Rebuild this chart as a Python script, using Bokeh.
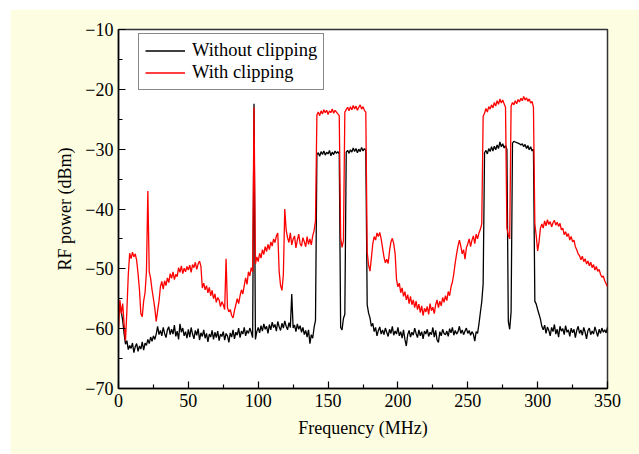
from bokeh.plotting import figure
from bokeh.models import Range1d, FixedTicker, Legend, LegendItem
from bokeh.embed import file_html
from bokeh.resources import INLINE

freq_mhz = list(range(0, 351))

without_clipping = [
    -57.5, -55.8, -57.2, -58.6, -60.8, -62.6, -62.0, -63.5, -62.8, -63.3,
    -62.4, -64.0, -63.0, -62.5, -63.8, -62.9, -63.4, -62.2, -63.6, -62.4,
    -62.8, -61.8, -62.5, -61.4, -62.1, -61.2, -61.8, -60.9, -59.6, -61.0,
    -60.3, -61.2, -59.8, -60.8, -61.5, -60.2, -59.7, -61.0, -60.1, -60.9,
    -59.4, -61.3, -60.4, -61.8, -59.2, -60.6, -59.9, -61.2, -60.5, -61.6,
    -60.1, -61.4, -59.8, -60.9, -61.7, -60.3, -61.1, -60.0, -61.9, -60.7,
    -61.3, -60.2, -61.6, -60.8, -62.2, -60.9, -61.4, -60.3, -61.8, -60.6,
    -61.5, -60.4, -62.0, -60.9, -61.3, -60.5, -61.9, -60.8, -61.2, -62.3,
    -60.7, -61.4, -60.2, -61.7, -60.6, -61.1, -59.9, -61.5, -60.4, -60.9,
    -59.8, -61.2, -60.3, -60.8, -59.9, -60.6, -61.5, -22.4, -61.8, -60.5,
    -59.8, -60.7, -59.5, -60.4, -59.2, -60.1, -59.6, -60.8, -59.3, -60.2,
    -58.9, -59.8, -59.3, -60.4, -58.8, -59.7, -60.3, -59.1, -59.9, -58.7,
    -59.6, -60.2, -59.0, -59.8, -54.2, -59.9, -59.4, -60.5, -59.2, -60.1,
    -59.5, -60.6, -59.8, -61.0, -60.3, -61.4, -60.2, -62.5, -61.0, -61.6,
    -59.8, -58.6, -30.9, -30.6, -31.2, -30.4, -30.9, -30.3, -31.0, -30.5,
    -30.8, -30.2, -31.1, -30.5, -30.9, -30.3, -30.7, -30.4, -30.8, -59.8,
    -60.2, -58.3, -57.6, -30.5, -30.2, -30.7, -30.1, -30.5, -29.8, -30.4,
    -29.9, -30.6, -30.0, -30.4, -29.7, -30.3, -29.9, -30.2, -56.0, -57.4,
    -58.2, -59.6, -59.1, -60.5, -59.8, -61.2, -60.3, -59.7, -60.9, -60.2,
    -61.0, -59.9, -60.6, -61.3, -60.1, -60.8, -59.6, -61.1, -60.4, -60.9,
    -59.8, -61.2, -60.5, -61.6, -60.2, -61.8, -62.9, -61.0, -60.3, -61.4,
    -60.6, -61.1, -59.9, -60.8, -61.5, -60.2, -61.2, -60.5, -61.7, -60.4,
    -60.9, -60.1, -61.3, -60.6, -61.0, -59.8, -61.4, -60.3, -61.9, -62.3,
    -60.5, -61.2, -60.1, -60.8, -61.0, -60.4, -61.3, -60.0, -60.7, -59.8,
    -61.1, -60.3, -60.9, -60.5, -59.6, -60.8, -60.2, -61.0, -60.4, -59.9,
    -60.8, -60.3, -61.1, -60.5, -60.9, -62.1, -60.5, -60.8, -59.2, -57.3,
    -55.5, -52.5, -30.6, -30.2, -30.8, -29.9, -30.4, -29.6, -30.3, -29.5,
    -30.1, -29.3, -29.9, -28.8, -29.6, -29.1, -29.8, -29.4, -30.0, -58.8,
    -60.1, -57.2, -29.0, -28.7, -28.8, -28.9, -29.0, -29.1, -29.3, -29.1,
    -29.6, -29.2, -29.9, -29.4, -30.1, -29.6, -30.3, -30.0, -55.4, -55.9,
    -56.8, -57.6, -58.4, -59.6, -60.2, -59.4, -60.8, -59.7, -60.3, -61.2,
    -59.8, -60.5, -59.3, -60.9, -60.1, -61.4, -59.6, -60.4, -60.0, -61.0,
    -59.5, -60.6, -60.2, -61.3, -59.9, -60.7, -60.1, -61.5, -60.3, -59.6,
    -60.8, -60.2, -61.1, -59.8, -60.6, -61.7, -60.3, -59.9, -61.0, -60.4,
    -60.9, -59.7, -60.5, -61.3, -60.1, -60.8, -59.9, -60.6, -60.2, -60.7,
    -59.8,
]

with_clipping = [
    -60.0, -55.2, -57.5, -55.8, -59.2, -62.0, -57.0, -51.0, -47.4, -48.3,
    -47.2, -48.0, -47.5, -48.6, -50.8, -53.5, -57.5, -58.0, -55.4, -54.0,
    -50.5, -37.0, -50.5, -51.6, -53.5, -55.0, -56.6, -58.8, -57.0, -55.4,
    -53.0, -52.1, -53.4, -52.0, -52.8, -51.5, -52.3, -50.8, -51.6, -50.5,
    -51.8, -50.9, -51.3, -49.8, -50.6, -49.5, -50.8, -49.9, -50.5, -49.6,
    -50.2, -49.4, -50.6, -49.3, -49.8, -48.9, -50.1, -49.2, -48.7, -49.6,
    -53.2, -52.4, -53.5, -52.8, -54.0, -53.1, -54.5, -53.6, -55.0, -54.2,
    -55.6, -54.8, -55.2, -56.3, -55.5, -56.0, -56.8, -48.3, -56.5, -57.2,
    -56.8, -57.8, -58.2, -57.0, -56.0, -55.0, -55.8, -54.5, -53.5, -54.2,
    -52.8, -51.5, -52.6, -50.5, -51.2, -49.8, -50.5, -23.0, -49.2, -48.0,
    -48.8, -47.4, -48.2, -46.8, -47.6, -46.3, -47.1, -45.9, -46.8, -45.5,
    -46.2, -45.0, -45.6, -44.5, -44.0, -50.5, -52.8, -53.6, -51.0, -40.0,
    -43.5, -44.8, -45.6, -44.0, -46.0, -45.0, -44.5, -46.5, -45.2, -44.2,
    -45.8, -46.2, -44.8, -45.5, -46.3, -44.6, -45.9, -45.0, -46.0, -44.5,
    -43.6, -42.0, -24.3, -23.8, -24.4, -23.6, -24.1, -23.4, -23.9, -23.5,
    -24.2, -23.6, -23.9, -23.3, -24.0, -23.5, -23.8, -24.1, -24.4, -44.8,
    -46.4, -45.3, -23.8, -23.4, -23.0, -23.6, -22.9, -23.4, -22.7, -23.3,
    -22.8, -23.5, -23.0, -22.6, -23.3, -22.9, -23.5, -23.8, -47.2, -49.4,
    -50.4, -48.2, -45.8, -44.6, -45.2, -44.0, -44.6, -43.9, -45.0, -46.5,
    -48.0, -49.0, -48.4, -49.1, -47.0, -45.5, -44.9, -45.8, -47.5, -51.8,
    -53.0, -52.4, -54.0, -53.2, -54.6, -53.8, -55.2, -54.3, -55.8, -54.6,
    -56.0, -55.2, -56.5, -55.4, -56.8, -55.9, -57.3, -56.2, -57.8, -56.6,
    -57.2, -56.3, -57.6, -55.8, -57.0, -56.4, -57.5, -56.0, -55.2, -56.5,
    -55.4, -56.2, -54.8, -55.6, -54.5, -55.3, -53.8, -54.5, -53.0, -52.2,
    -50.8, -49.0, -47.5, -46.2, -45.2, -46.2, -47.5, -46.8, -48.4, -46.5,
    -45.8, -45.0, -46.3, -45.2, -44.5, -45.8, -44.2, -45.0, -44.0, -43.4,
    -42.5, -24.5, -24.0, -23.2, -23.8, -22.9, -23.3, -22.6, -23.1, -22.2,
    -22.8, -21.9, -22.5, -21.6, -22.3, -21.8, -22.4, -23.0, -43.2, -44.3,
    -45.0, -22.8, -22.2, -22.6, -21.9, -22.4, -21.7, -22.1, -21.5, -21.9,
    -21.2, -21.8, -21.4, -22.0, -21.6, -22.3, -22.0, -23.0, -42.5, -44.5,
    -47.0, -45.5, -43.2, -42.5, -43.2, -42.0, -42.8, -41.8, -42.6, -42.1,
    -43.0, -42.3, -41.9, -42.7, -42.2, -42.9, -42.4, -43.5, -43.2, -44.3,
    -43.8, -44.6, -44.1, -45.2, -44.6, -45.5, -45.2, -46.3, -46.8, -47.5,
    -47.8, -48.5, -47.9, -48.8, -48.3, -49.2, -48.7, -49.5, -48.9, -49.8,
    -49.3, -50.2, -49.6, -50.4, -50.1, -50.9, -51.4, -51.2, -52.0, -52.5,
    -53.0,
]

x_ticks = [0, 50, 100, 150, 200, 250, 300, 350]
x_minor = [25, 75, 125, 175, 225, 275, 325]
y_ticks = [-70, -60, -50, -40, -30, -20, -10]
y_minor = [-65, -55, -45, -35, -25, -15]
y_tick_labels = {v: ("\u2212" + str(-v)) for v in y_ticks}
x_tick_labels = {v: str(v) for v in x_ticks}

series_names = ["Without clipping", "With clipping"]
series_colors = ["#000000", "#ff0000"]

FONT = "Liberation Serif"
BG = "#fdfde2"

p = figure(
    width=629, height=445,
    x_range=Range1d(0, 350), y_range=Range1d(-70, -10),
    output_backend="svg", toolbar_location=None,
    background_fill_color="white", border_fill_color=BG,
    min_border_left=108, min_border_top=20, min_border_right=32, min_border_bottom=66,
    margin=(9, 0, 0, 10),
)
p.grid.visible = False
p.outline_line_color = "#333333"
p.outline_line_width = 1.5

r_black = p.line(freq_mhz, without_clipping, line_color=series_colors[0], line_width=1.3)
r_red = p.line(freq_mhz, with_clipping, line_color=series_colors[1], line_width=1.3)

for ax in (p.xaxis[0], p.yaxis[0]):
    ax.axis_line_color = "#000000"
    ax.axis_line_width = 1.5
    ax.major_tick_in = 7
    ax.major_tick_out = 0
    ax.minor_tick_in = 4
    ax.minor_tick_out = 0
    ax.major_tick_line_color = "#000000"
    ax.minor_tick_line_color = "#000000"
    ax.major_tick_line_width = 1.2
    ax.minor_tick_line_width = 1.2
    ax.major_label_text_font = FONT
    ax.major_label_text_font_size = "18px"
    ax.major_label_text_color = "#000000"
    ax.axis_label_text_font = FONT
    ax.axis_label_text_font_size = "18px"
    ax.axis_label_text_font_style = "normal"
    ax.axis_label_text_color = "#000000"

p.xaxis.ticker = FixedTicker(ticks=x_ticks, minor_ticks=x_minor)
p.yaxis.ticker = FixedTicker(ticks=y_ticks, minor_ticks=y_minor)
p.xaxis.major_label_overrides = x_tick_labels
p.yaxis.major_label_overrides = y_tick_labels
p.xaxis.axis_label = "Frequency (MHz)"
p.yaxis.axis_label = "RF power (dBm)"
p.xaxis.major_label_standoff = 5
p.yaxis.major_label_standoff = 5
p.xaxis.axis_label_standoff = 8
p.yaxis.axis_label_standoff = 7

legend = Legend(
    items=[LegendItem(label=series_names[0], renderers=[r_black]),
           LegendItem(label=series_names[1], renderers=[r_red])],
    location=(20, 298),
    label_text_font=FONT, label_text_font_size="18.5px", label_text_color="#000000",
    glyph_width=40, glyph_height=21, label_height=21, label_standoff=7,
    padding=6, spacing=1, margin=0,
    border_line_color="#111111", border_line_width=1.6,
    background_fill_color="white", background_fill_alpha=1.0,
)
p.add_layout(legend, "center")

open("out.html", "w").write(file_html(p, INLINE))
